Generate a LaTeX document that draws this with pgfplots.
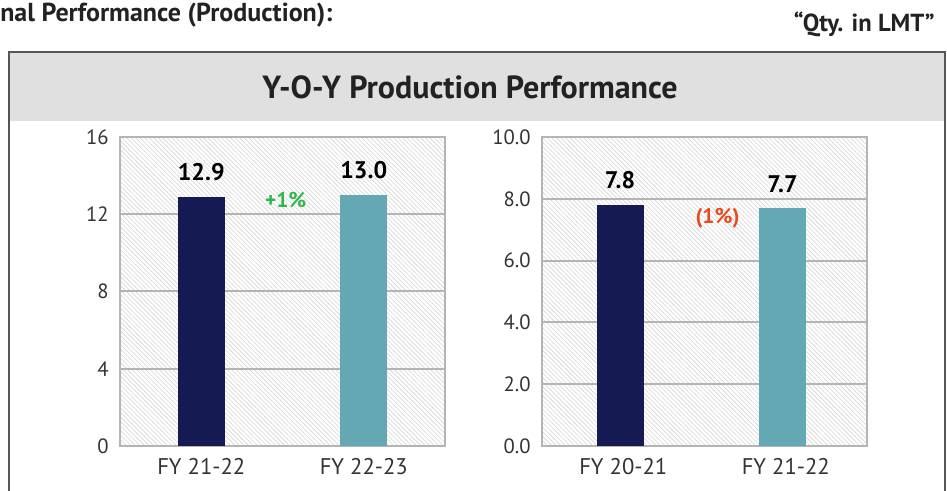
\documentclass[border=0pt]{standalone}
\usepackage{pgfplots}
\pgfplotsset{compat=1.18}
\usepackage{fontspec}
\setmainfont{PT Sans}
\usetikzlibrary{patterns.meta}
\definecolor{navy}{HTML}{161A52}
\definecolor{teal2}{HTML}{63A8B3}
\definecolor{gridc}{HTML}{B4B4B4}
\definecolor{hatch}{HTML}{D4D4D4}
\definecolor{band}{HTML}{E0E0E0}
\definecolor{framec}{HTML}{555555}
\definecolor{txt}{HTML}{222222}
\definecolor{ticktxt}{HTML}{333333}
\definecolor{pgreen}{HTML}{2DB84D}
\definecolor{pred}{HTML}{E8491D}
\pgfkeys{/pgf/number format/assume math mode=true}
\pgfplotsset{
 prodaxis/.style={
  scale only axis, width=243.75pt, height=231.75pt,
  anchor=south west,
  xmin=-0.5,xmax=1.5, ymin=0,
  xtick={0,1},
  ybar, bar width=35.25pt, bar shift=0pt,
  ymajorgrids, major grid style={gridc, line width=1.5pt},
  axis line style={gridc, line width=1.5pt},
  major tick length=0pt,
  axis background/.style={pattern={Lines[angle=-45,distance=2.4pt,line width=0.45pt]}, pattern color=hatch},
  tick label style={font=\fontsize{15.5}{15.5}\selectfont, text=ticktxt},
  yticklabel style={xshift=-5pt},
  xticklabel style={font=\fontsize{17}{17}\selectfont, yshift=-6pt},
  nodes near coords={\pgfmathprintnumber[fixed,fixed zerofill,precision=1]{\pgfplotspointmeta}},
  every node near coord/.append style={font=\bfseries\fontsize{18}{18}\selectfont, text=black, anchor=base, yshift=12pt},
 }
}
\begin{document}
\begin{tikzpicture}[x=0.75pt,y=0.75pt]
\path[use as bounding box] (0,0) rectangle (947,491);
\fill[band] (9,439) rectangle (945,370);
\draw[framec, line width=1.5pt] (9,-10) -- (9,439) -- (945,439) -- (945,-10);
\node[font=\bfseries\fontsize{24}{24}\selectfont, text=txt] at (470,404) {Y-O-Y Production Performance};
\node[anchor=base west, inner sep=0pt, font=\bfseries\fontsize{19.5}{19.5}\selectfont, text=txt] at (0,469) {nal Performance (Production):};
\node[anchor=base east, inner sep=0pt, font=\bfseries\fontsize{18.5}{18.5}\selectfont, text=txt] at (935,459) {“Qty. in LMT”};
\coordinate (A1) at (120,45);
\coordinate (A2) at (542,45);
\begin{axis}[prodaxis, at={(A1)}, ymax=16, ytick={0,4,8,12,16}, xticklabels={FY 21-22, FY 22-23}]
\addplot[fill=navy, draw=none] coordinates {(0,12.9)};
\addplot[fill=teal2, draw=none] coordinates {(1,13.0)};
\node[text=pgreen, font=\bfseries\fontsize{16}{16}\selectfont] at (axis cs:0.52,12.74) {+1\%};
\end{axis}
\begin{axis}[prodaxis, at={(A2)}, ymax=10, ytick={0,2,4,6,8,10}, yticklabel style={/pgf/number format/.cd,fixed,fixed zerofill,precision=1}, xticklabels={FY 20-21, FY 21-22}]
\addplot[fill=navy, draw=none] coordinates {(-0.02,7.8)};
\addplot[fill=teal2, draw=none] coordinates {(0.98,7.7)};
\node[text=pred, font=\bfseries\fontsize{16}{16}\selectfont] at (axis cs:0.58,7.38) {(1\%)};
\end{axis}
\end{tikzpicture}
\end{document}
